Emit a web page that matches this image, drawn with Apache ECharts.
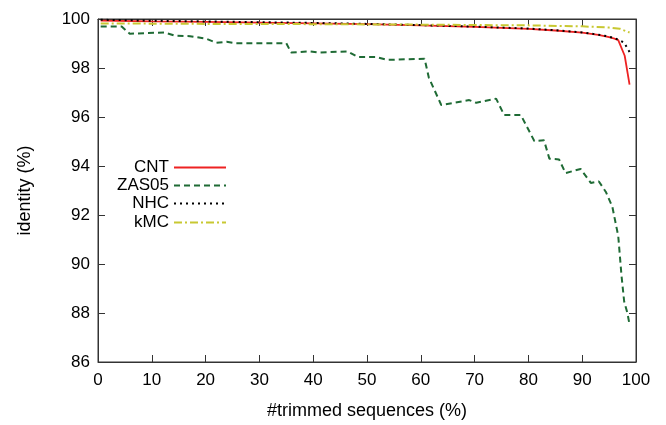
<!DOCTYPE html>
<html>
<head>
<meta charset="utf-8">
<title>identity vs trimmed sequences</title>
<script src="https://cdn.jsdelivr.net/npm/echarts@6/dist/echarts.min.js"></script>
<style>
  html, body { margin: 0; padding: 0; background: #fff; }
  #chart { width: 666px; height: 425px; }
</style>
</head>
<body>
<div id="chart"></div>
<script>
// values
var seriesNames = ['CNT', 'ZAS05', 'NHC', 'kMC'];

var cntX = [0.5, 10, 20, 30, 40, 50, 60, 70, 80, 85, 90, 93, 95, 96, 96.7, 97.9, 98.8];
var cntY = [99.93, 99.9, 99.88, 99.85, 99.82, 99.79, 99.74, 99.68, 99.6, 99.53, 99.44, 99.35, 99.26, 99.2, 99.14, 98.5, 97.32];

var zasX = [0.5, 4.4, 5.9, 12.4, 14.3, 17.1, 20.2, 22.0, 23.9, 25.7, 35.0, 35.9, 39.3, 41.2, 46.4, 48.3, 51.7, 53.7, 60.7, 61.5, 63.8, 69.0, 70.3, 74.0, 75.5, 78.6, 81.1, 82.9, 83.9, 85.7, 86.9, 89.7, 91.6, 93.1, 94.4, 95.6, 96.7, 97.3, 97.8, 98.4, 98.8];
var zasY = [99.69, 99.69, 99.4, 99.45, 99.32, 99.3, 99.19, 99.03, 99.07, 99.01, 99.01, 98.63, 98.68, 98.63, 98.68, 98.45, 98.45, 98.33, 98.38, 97.6, 96.49, 96.69, 96.58, 96.75, 96.08, 96.08, 95.02, 95.05, 94.3, 94.27, 93.71, 93.88, 93.31, 93.37, 92.94, 92.34, 91.14, 89.54, 88.47, 88.0, 87.53];

var nhcX = [0.5, 10, 20, 30, 40, 50, 60, 70, 80, 85, 90, 93, 95, 96.7, 97.8, 98.8];
var nhcY = [99.97, 99.93, 99.9, 99.87, 99.84, 99.8, 99.75, 99.69, 99.61, 99.54, 99.45, 99.36, 99.28, 99.16, 99.03, 98.65];

var kmcX = [0.5, 20, 40, 60, 80, 90, 95, 97, 98.8];
var kmcY = [99.82, 99.8, 99.79, 99.77, 99.74, 99.7, 99.65, 99.6, 99.45];

var xTicks = { min: 0, max: 100, interval: 10 };
var yTicks = { min: 86, max: 100, interval: 2 };

var font = 'Liberation Sans, Arial, sans-serif';

function pairs(xs, ys) {
    var out = [];
    for (var i = 0; i < xs.length; i++) {
        out.push([xs[i], ys[i]]);
    }
    return out;
}

var chart = echarts.init(document.getElementById('chart'));

// box + inward ticks on all four sides (gnuplot style)
var xAxes = [
    {
        type: 'value', position: 'bottom', min: xTicks.min, max: xTicks.max, interval: xTicks.interval,
        name: '#trimmed sequences (%)', nameLocation: 'middle', nameGap: 40,
        nameTextStyle: { fontSize: 18, color: '#000' },
        splitLine: { show: false },
        axisTick: { show: true, inside: true, length: 7, lineStyle: { color: '#333' } },
        axisLine: { show: true, onZero: false, lineStyle: { color: '#333' } },
        axisLabel: { margin: 10, fontSize: 17, color: '#000' }
    },
    {
        type: 'value', position: 'top', min: xTicks.min, max: xTicks.max, interval: xTicks.interval,
        splitLine: { show: false },
        axisTick: { show: true, inside: true, length: 7, lineStyle: { color: '#333' } },
        axisLine: { show: true, onZero: false, lineStyle: { color: '#333' } },
        axisLabel: { show: false }
    }
];
var yAxes = [
    {
        type: 'value', position: 'left', min: yTicks.min, max: yTicks.max, interval: yTicks.interval,
        name: 'identity (%)', nameLocation: 'middle', nameGap: 64,
        nameTextStyle: { fontSize: 18, color: '#000' },
        splitLine: { show: false },
        axisTick: { show: true, inside: true, length: 7, lineStyle: { color: '#333' } },
        axisLine: { show: true, onZero: false, lineStyle: { color: '#333' } },
        axisLabel: { margin: 8, fontSize: 17, color: '#000' }
    },
    {
        type: 'value', position: 'right', min: yTicks.min, max: yTicks.max, interval: yTicks.interval,
        splitLine: { show: false },
        axisTick: { show: true, inside: true, length: 7, lineStyle: { color: '#333' } },
        axisLine: { show: true, onZero: false, lineStyle: { color: '#333' } },
        axisLabel: { show: false }
    }
];

var lineDefs = [
    { name: seriesNames[0], data: pairs(cntX, cntY), color: '#ee2222', type: 'solid', width: 1.8 },
    { name: seriesNames[1], data: pairs(zasX, zasY), color: '#1f6b35', type: [6, 4], width: 2 },
    { name: seriesNames[2], data: pairs(nhcX, nhcY), color: '#000000', type: [2, 4], width: 2 },
    { name: seriesNames[3], data: pairs(kmcX, kmcY), color: '#c8c832', type: [8, 3, 2, 3], width: 2 }
];

var legendTops = [154, 172, 190, 209];
var legends = lineDefs.map(function (d, i) {
    return {
        data: [d.name], right: 434, top: legendTops[i], align: 'right',
        itemWidth: 52, itemHeight: 14, selectedMode: false,
        itemStyle: { opacity: 0, borderWidth: 0 },
        textStyle: { fontSize: 17, color: '#000' }
    };
});

var series = lineDefs.map(function (d) {
    return {
        name: d.name, type: 'line', data: d.data,
        xAxisIndex: 0, yAxisIndex: 0,
        symbol: 'none', showSymbol: false,
        itemStyle: { color: d.color },
        lineStyle: { color: d.color, type: d.type, width: d.width }
    };
});

chart.setOption({
    animation: false,
    textStyle: { fontFamily: font },
    // grid border draws the plot box in case the mirror axes stay hidden
    grid: { show: true, borderColor: '#333', borderWidth: 1, left: 98, right: 30, top: 19, bottom: 57 },
    xAxis: xAxes,
    yAxis: yAxes,
    legend: legends,
    series: series
});
</script>
</body>
</html>
